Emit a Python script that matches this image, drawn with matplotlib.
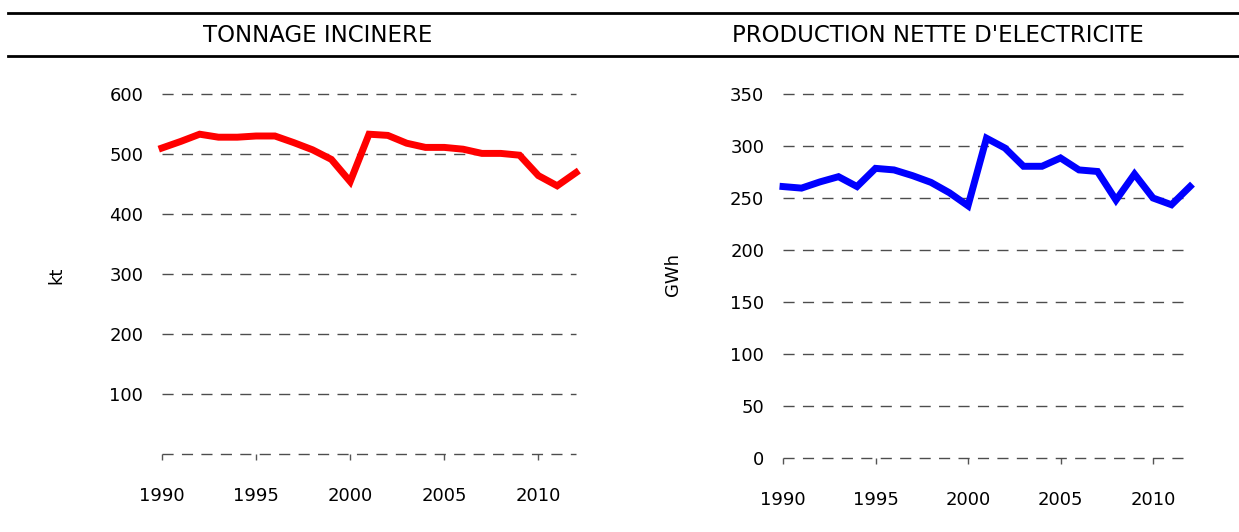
import matplotlib
matplotlib.use("Agg")
import matplotlib.pyplot as plt
from matplotlib.lines import Line2D

# data
years = list(range(1990, 2013))
tonnage_kt = [510, 521, 533, 528, 528, 530, 530, 519, 507, 491, 454,
              533, 531, 518, 511, 511, 508, 501, 501, 498, 464, 447, 469]
electricite_gwh = [261, 259.5, 265.5, 270.5, 261, 278.5, 277, 271.5, 265, 255, 242.5,
                   307.5, 298, 280.5, 280.5, 288.5, 277, 275.5, 248, 273, 250, 243.5, 261]

xticks = [1990, 1995, 2000, 2005, 2010]
left_yticks = [0, 100, 200, 300, 400, 500, 600]
right_yticks = [0, 50, 100, 150, 200, 250, 300, 350]

plt.rcParams['font.family'] = 'DejaVu Sans'

W, H = 1239, 532
fig = plt.figure(figsize=(W / 100, H / 100), dpi=100)


def style_axes(ax, yticks, ylim, show_zero):
    ax.set_xlim(1990, 2012)
    ax.set_ylim(*ylim)
    ax.set_yticks(yticks)
    ax.set_yticklabels([('' if (v == 0 and not show_zero) else str(v)) for v in yticks])
    ax.set_xticks(xticks)
    ax.set_xticklabels([str(v) for v in xticks])
    for s in ax.spines.values():
        s.set_visible(False)
    ax.grid(axis='y', linestyle=(0, (8, 6)), color='#4d4d4d', linewidth=1)
    for gl in ax.yaxis.get_gridlines():
        gl.set_clip_on(False)
    ax.set_axisbelow(True)
    ax.tick_params(axis='y', length=0, pad=13.5, labelsize=13)
    ax.tick_params(axis='x', length=4, width=1, color='#555555', direction='out',
                   pad=20, labelsize=13)


# left panel
ax1 = fig.add_axes([162 / W, 1 - 454 / H, (576 - 162) / W, (454 - 94) / H])
ax1.plot(years, tonnage_kt, color='#ff0000', linewidth=5, solid_joinstyle='miter', clip_on=False)
style_axes(ax1, left_yticks, (0, 600), False)
ax1.set_ylabel('kt', fontsize=13)
ax1.yaxis.set_label_coords(65 / W, 1 - 275 / H, transform=fig.transFigure)

# right panel
ax2 = fig.add_axes([783 / W, 1 - 458 / H, (1190 - 783) / W, (458 - 94) / H])
ax2.plot(years, electricite_gwh, color='#0000ff', linewidth=5, solid_joinstyle='miter', clip_on=False)
style_axes(ax2, right_yticks, (0, 350), True)
ax2.set_ylabel('GWh', fontsize=13)
ax2.yaxis.set_label_coords(682 / W, 1 - 275 / H, transform=fig.transFigure)

# header rules and titles
for yy in (13, 56):
    fig.add_artist(Line2D([8 / W, 1.0], [1 - yy / H, 1 - yy / H], color='black',
                          linewidth=2, transform=fig.transFigure))
fig.text(318 / W, 1 - 36 / H, 'TONNAGE INCINERE', ha='center', va='center', fontsize=16.5)
fig.text(938 / W, 1 - 36 / H, "PRODUCTION NETTE D'ELECTRICITE", ha='center', va='center', fontsize=16.5)

fig.savefig('out.png', dpi=100)
